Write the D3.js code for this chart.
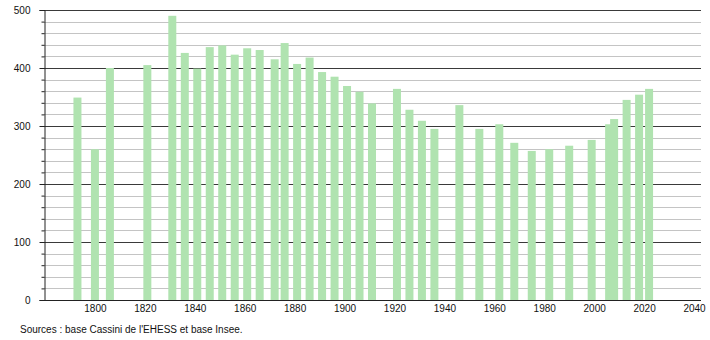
<!DOCTYPE html>
<html>
<head>
<meta charset="utf-8">
<script src="https://cdn.jsdelivr.net/npm/d3@7"></script>
<style>
	body { margin: 0; background: #fff; }
	text { font-family: "Liberation Sans", Arial, sans-serif; font-size: 10px; fill: #111; }
</style>
</head>
<body>
<svg class="chart" width="710" height="340"></svg>
<script>
// census years and population
var years = [1793, 1800, 1806, 1821, 1831, 1836, 1841, 1846, 1851, 1856,
	1861, 1866, 1872, 1876, 1881, 1886, 1891, 1896, 1901, 1906,
	1911, 1921, 1926, 1931, 1936, 1946, 1954, 1962, 1968, 1975,
	1982, 1990, 1999, 2006, 2008, 2013, 2018, 2022];

var population = [349, 260, 400, 405, 490, 426, 399, 436, 439, 423,
	434, 431, 415, 443, 407, 418, 393, 385, 369, 359,
	339, 364, 328, 309, 295, 336, 295, 303, 271, 257,
	260, 266, 276, 303, 312, 345, 354, 364];

var xTicks = [1800, 1820, 1840, 1860, 1880, 1900, 1920, 1940, 1960, 1980, 2000, 2020, 2040];
var yTicks = [0, 100, 200, 300, 400, 500];
var source = "Sources : base Cassini de l'EHESS et base Insee.";

var data = years.map(function (y, i) { return {year: y, pop: population[i]}; });

// plot area (note: "top" is reserved on window, so use other names)
var plotLeft = 44, plotRight = 701, plotTop = 10, plotBottom = 300;
var barWidth = 8;

var x = d3.scaleLinear().domain([1779.6, 2042.8]).range([plotLeft, plotRight]);
var y = d3.scaleLinear().domain([0, 500]).range([plotBottom, plotTop]);

var minorTicks = d3.range(20, 500, 20).filter(function (d) { return d % 100 != 0; });

var chart = d3.select(".chart");

// minor grid every 20
chart.append("g")
	.selectAll("line")
	.data(minorTicks)
	.enter()
	.append("line")
	.attr("x1", plotLeft).attr("x2", plotRight)
	.attr("y1", function (d) { return Math.round(y(d)) + 0.5; })
	.attr("y2", function (d) { return Math.round(y(d)) + 0.5; })
	.attr("stroke", "#c4c4c4")
	.attr("stroke-width", 1);

// major grid every 100
chart.append("g")
	.selectAll("line")
	.data(yTicks.filter(function (d) { return d > 0; }))
	.enter()
	.append("line")
	.attr("x1", plotLeft).attr("x2", plotRight)
	.attr("y1", function (d) { return Math.round(y(d)) + 0.5; })
	.attr("y2", function (d) { return Math.round(y(d)) + 0.5; })
	.attr("stroke", "#3a3a3a")
	.attr("stroke-width", 1);

// bars sit on top of the grid
chart.append("g")
	.selectAll("rect")
	.data(data)
	.enter()
	.append("rect")
	.attr("x", function (d) { return x(d.year) - barWidth / 2; })
	.attr("y", function (d) { return y(d.pop); })
	.attr("width", barWidth)
	.attr("height", function (d) { return y(0) - y(d.pop); })
	.attr("fill", "#b0e3b0");

// y axis with major and minor ticks
var yAxis = d3.axisLeft(y).tickValues(yTicks).tickSize(5).tickPadding(9);
var gy = chart.append("g")
	.attr("transform", "translate(" + (plotLeft + 0.5) + ",0)")
	.call(yAxis);
gy.select(".domain").attr("stroke", "#222");
gy.selectAll(".tick line").attr("stroke", "#222");
gy.selectAll("text").attr("font-size", 10).attr("font-family", null).attr("fill", "#111");

chart.append("g")
	.attr("transform", "translate(" + (plotLeft + 0.5) + ",0)")
	.call(d3.axisLeft(y).tickValues(minorTicks).tickSize(3).tickFormat(""))
	.call(function (g) { g.select(".domain").remove(); })
	.selectAll(".tick line").attr("stroke", "#222");

// x axis
var xAxis = d3.axisBottom(x).tickValues(xTicks).tickSize(0).tickPadding(4)
	.tickFormat(d3.format("d"));
var gx = chart.append("g")
	.attr("transform", "translate(0," + (plotBottom + 0.5) + ")")
	.call(xAxis);
gx.select(".domain").attr("stroke", "#222").attr("d", "M" + plotLeft + ",0H" + plotRight);
gx.selectAll("text").attr("font-size", 10).attr("font-family", null).attr("fill", "#111");

chart.append("text")
	.attr("x", 20)
	.attr("y", 333)
	.attr("font-size", 10.3)
	.text(source);
</script>
</body>
</html>
